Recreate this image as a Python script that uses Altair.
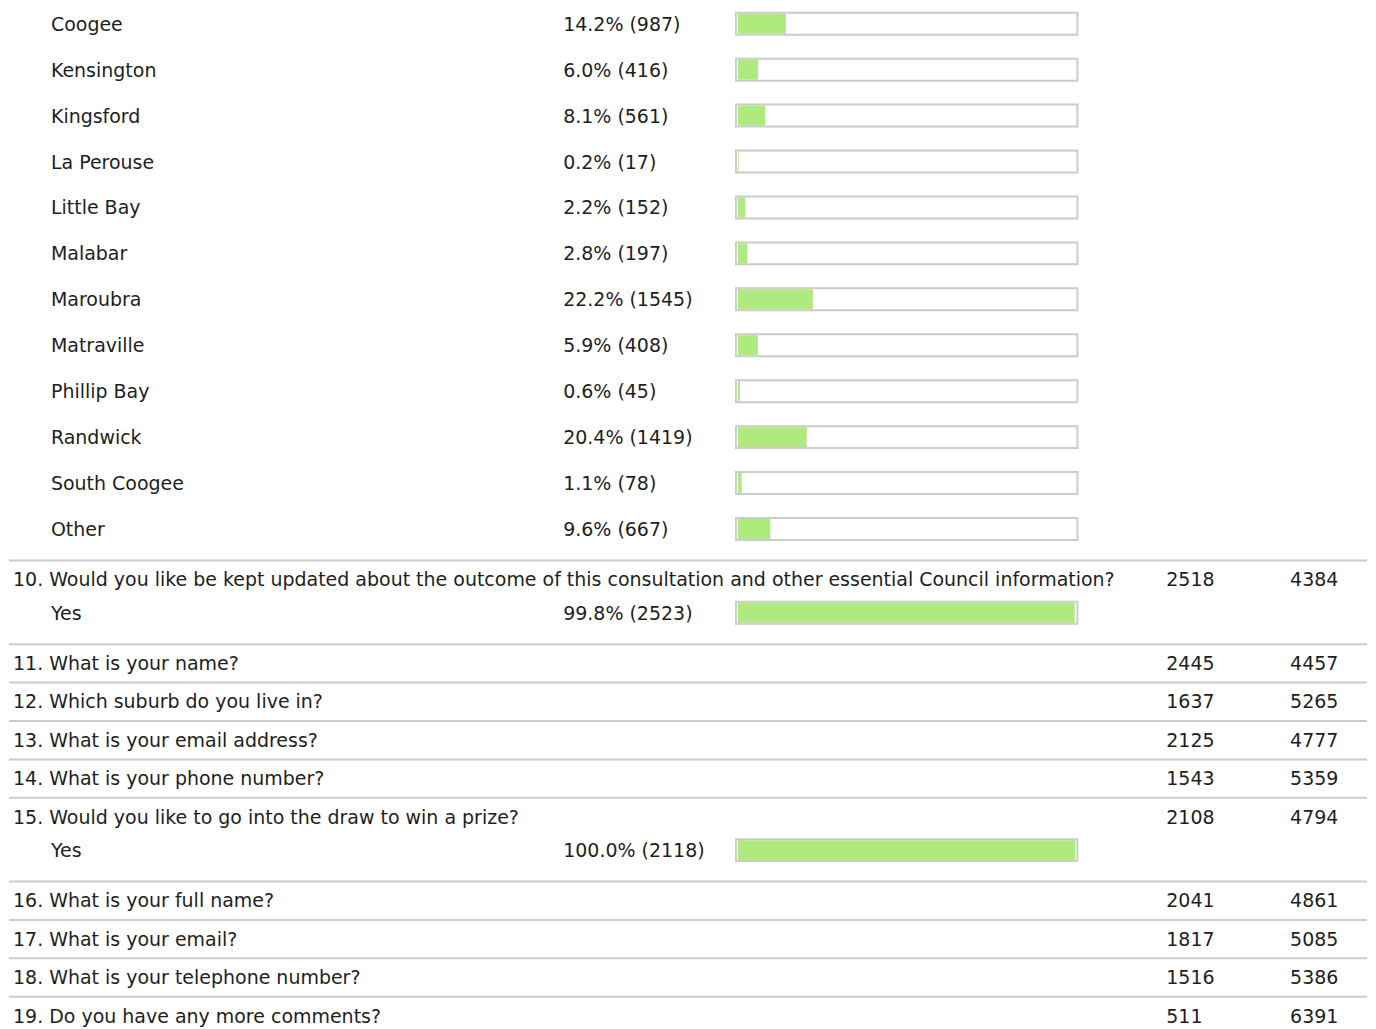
import altair as alt
import pandas as pd

# ---- data ----
suburbs = ["Coogee", "Kensington", "Kingsford", "La Perouse", "Little Bay", "Malabar",
           "Maroubra", "Matraville", "Phillip Bay", "Randwick", "South Coogee", "Other"]
suburb_pct = [14.2, 6.0, 8.1, 0.2, 2.2, 2.8, 22.2, 5.9, 0.6, 20.4, 1.1, 9.6]
suburb_cnt = [987, 416, 561, 17, 152, 197, 1545, 408, 45, 1419, 78, 667]

q_nums = [10, 11, 12, 13, 14, 15, 16, 17, 18, 19]
q_texts = [
    "Would you like be kept updated about the outcome of this consultation and other essential Council information?",
    "What is your name?",
    "Which suburb do you live in?",
    "What is your email address?",
    "What is your phone number?",
    "Would you like to go into the draw to win a prize?",
    "What is your full name?",
    "What is your email?",
    "What is your telephone number?",
    "Do you have any more comments?",
]
q_answered = [2518, 2445, 1637, 2125, 1543, 2108, 2041, 1817, 1516, 511]
q_skipped = [4384, 4457, 5265, 4777, 5359, 4794, 4861, 5085, 5386, 6391]
q_choice_labels = {10: ["Yes"], 15: ["Yes"]}
q_choice_pct = {10: [99.8], 15: [100.0]}
q_choice_cnt = {10: [2523], 15: [2118]}

# ---- layout (computed) ----
W, H = 1360, 1013
ANS_STEP, Q_TO_ANS, ANS_TO_SEP, SEP_TO_Q, Q_TO_SEP = 46, 33.5, 30.5, 19.9, 18.55

answers, questions, seps = [], [], []
pos = 16
for i, (s, p, c) in enumerate(zip(suburbs, suburb_pct, suburb_cnt)):
    if i > 0:
        pos += ANS_STEP
    answers.append(dict(label=s, pct=p, cnt=c, pos=pos))
pos += ANS_TO_SEP
seps.append(pos)
for qi, (n, t, a, sk) in enumerate(zip(q_nums, q_texts, q_answered, q_skipped)):
    pos += SEP_TO_Q
    questions.append(dict(text=f"{n}. {t}", answered=str(a), skipped=str(sk), pos=pos))
    if n in q_choice_labels:
        for j, (l, p, c) in enumerate(zip(q_choice_labels[n], q_choice_pct[n], q_choice_cnt[n])):
            pos += Q_TO_ANS if j == 0 else ANS_STEP
            answers.append(dict(label=l, pct=p, cnt=c, pos=pos))
        pos += ANS_TO_SEP
    else:
        pos += Q_TO_SEP
    if qi < len(q_nums) - 1:
        seps.append(pos)

ans_df = pd.DataFrame(answers)
ans_df["ptxt"] = ans_df.apply(lambda r: f"{r['pct']:.1f}% ({r['cnt']})", axis=1)
ans_df["b0"] = ans_df["pos"] - 12
ans_df["b1"] = ans_df["pos"] + 10
ans_df["g0"] = ans_df["pos"] - 11
ans_df["g1"] = ans_df["pos"] + 9
ans_df["zero"] = 0.0
q_df = pd.DataFrame(questions)
sep_df = pd.DataFrame({"pos": seps})

yscale = alt.Scale(domain=[0, H], range=[0, H])
xscale = alt.Scale(domain=[0, 100], range=[730, 1068])
FONT = "DejaVu Sans"
FS = 19
TXT = "#1e1e1e"

seps_layer = alt.Chart(sep_df).mark_rule(color="#cccccc", strokeWidth=2).encode(
    x=alt.value(0), x2=alt.value(W),
    y=alt.Y("pos:Q", scale=yscale, axis=None))

box_layer = alt.Chart(ans_df).mark_rect(fill="white", stroke="#cccccc", strokeWidth=2).encode(
    x=alt.value(728), x2=alt.value(1070),
    y=alt.Y("b0:Q", scale=yscale, axis=None), y2="b1:Q")

bar_layer = alt.Chart(ans_df).mark_rect(fill="#aeea7e").encode(
    x=alt.X("zero:Q", scale=xscale, axis=None), x2="pct:Q",
    y=alt.Y("g0:Q", scale=yscale, axis=None), y2="g1:Q")

def txt(df, field, xv):
    return alt.Chart(df).mark_text(align="left", baseline="middle", font=FONT,
                                   fontSize=FS, color=TXT).encode(
        x=alt.value(xv), y=alt.Y("pos:Q", scale=yscale, axis=None), text=f"{field}:N")

chart = alt.layer(
    seps_layer, box_layer, bar_layer,
    txt(ans_df, "label", 42),
    txt(ans_df, "ptxt", 555),
    txt(q_df, "text", 4),
    txt(q_df, "answered", 1159),
    txt(q_df, "skipped", 1283),
).properties(width=W, height=H, padding=0).configure_view(strokeWidth=0)

chart.save("out.html", embed_options={"renderer": "svg", "actions": False})
